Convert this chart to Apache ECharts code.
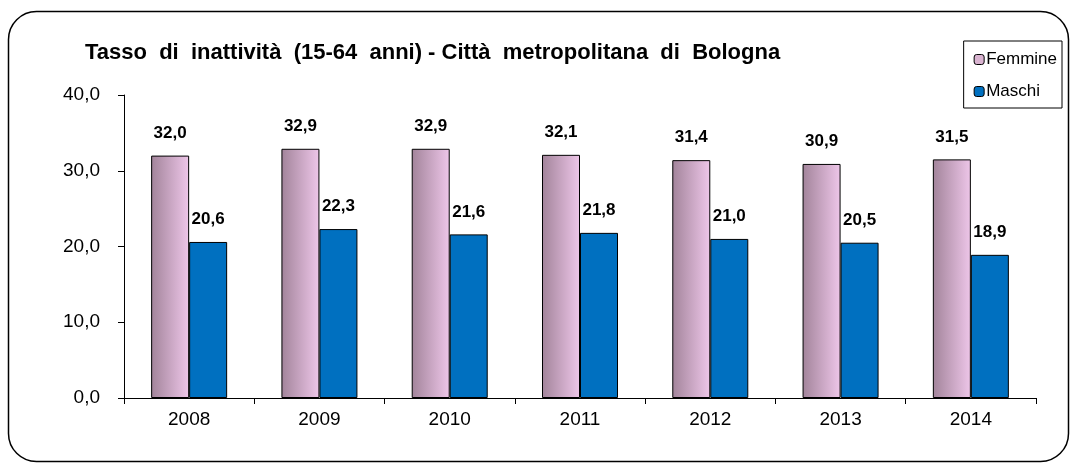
<!DOCTYPE html>
<html><head><meta charset="utf-8">
<script src="https://cdn.jsdelivr.net/npm/echarts@6/dist/echarts.min.js"></script>
<style>html,body{margin:0;padding:0;background:#fff}#c{width:1077px;height:466px}</style>
</head><body><div id="c"></div>
<script>
const categories = ['2008','2009','2010','2011','2012','2013','2014'];
const femmine = [32.0, 32.9, 32.9, 32.1, 31.4, 30.9, 31.5];
const maschi = [20.6, 22.3, 21.6, 21.8, 21.0, 20.5, 18.9];
const yTicks = [0, 10, 20, 30, 40];

const fmt = v => v.toFixed(1).replace('.', ',');
const FF = 'Arial, Liberation Sans';
const chart = echarts.init(document.getElementById('c'));
const pink = new echarts.graphic.LinearGradient(0, 0, 1, 0, [
  {offset: 0, color: '#a2849a'}, {offset: 1, color: '#eec6e9'}]);
const lbl = {show: true, position: 'top', distance: 14, fontFamily: FF, fontWeight: 'bold', fontSize: 17, color: '#000', formatter: p => fmt(p.value)};
chart.setOption({
  animation: false,
  textStyle: {fontFamily: FF},
  title: {text: 'Tasso  di  inattività  (15-64  anni) - Città  metropolitana  di  Bologna', left: 80, top: 37,
    textStyle: {fontSize: 22, fontWeight: 'bold', color: '#000', fontFamily: FF}},
  legend: {orient: 'vertical', right: 15, top: 41, itemWidth: 10, itemHeight: 10, itemGap: 15,
    padding: [10, 5, 8, 10], borderColor: '#000', borderWidth: 1,
    textStyle: {fontSize: 17, color: '#000', fontFamily: FF, padding: [0, 0, 0, -3]},
    data: [{name: 'Femmine', itemStyle: {color: '#d9b3d0', borderColor: '#000', borderWidth: 1}},
           {name: 'Maschi', itemStyle: {color: '#0070c0', borderColor: '#000', borderWidth: 1}}]},
  grid: {left: 124, right: 41, top: 95, bottom: 68},
  xAxis: {type: 'category', data: categories,
    axisLine: {lineStyle: {color: '#000', width: 1}},
    axisTick: {show: true, length: 6, lineStyle: {color: '#000'}},
    axisLabel: {fontSize: 19, color: '#000', margin: 12, fontFamily: FF}},
  yAxis: {type: 'value', min: 0, max: 40, interval: 10,
    splitLine: {show: false},
    axisLine: {show: true, lineStyle: {color: '#000', width: 1}},
    axisTick: {show: true, inside: false, length: 6, lineStyle: {color: '#000'}},
    axisLabel: {fontSize: 19, color: '#000', margin: 24, fontFamily: FF, formatter: v => yTicks.includes(v) ? fmt(v) : ''}},
  series: [
    {name: 'Femmine', type: 'bar', data: femmine, barWidth: 38, barGap: '0%',
     itemStyle: {color: pink, borderColor: '#000', borderWidth: 1}, label: lbl},
    {name: 'Maschi', type: 'bar', data: maschi, barWidth: 38,
     itemStyle: {color: '#0070c0', borderColor: '#000', borderWidth: 1}, label: lbl}
  ],
  graphic: [{type: 'rect', shape: {x: 8.5, y: 11.5, width: 1060, height: 450, r: 28}, silent: true,
    style: {fill: 'none', stroke: '#000', lineWidth: 1.5}}]
});
</script></body></html>
